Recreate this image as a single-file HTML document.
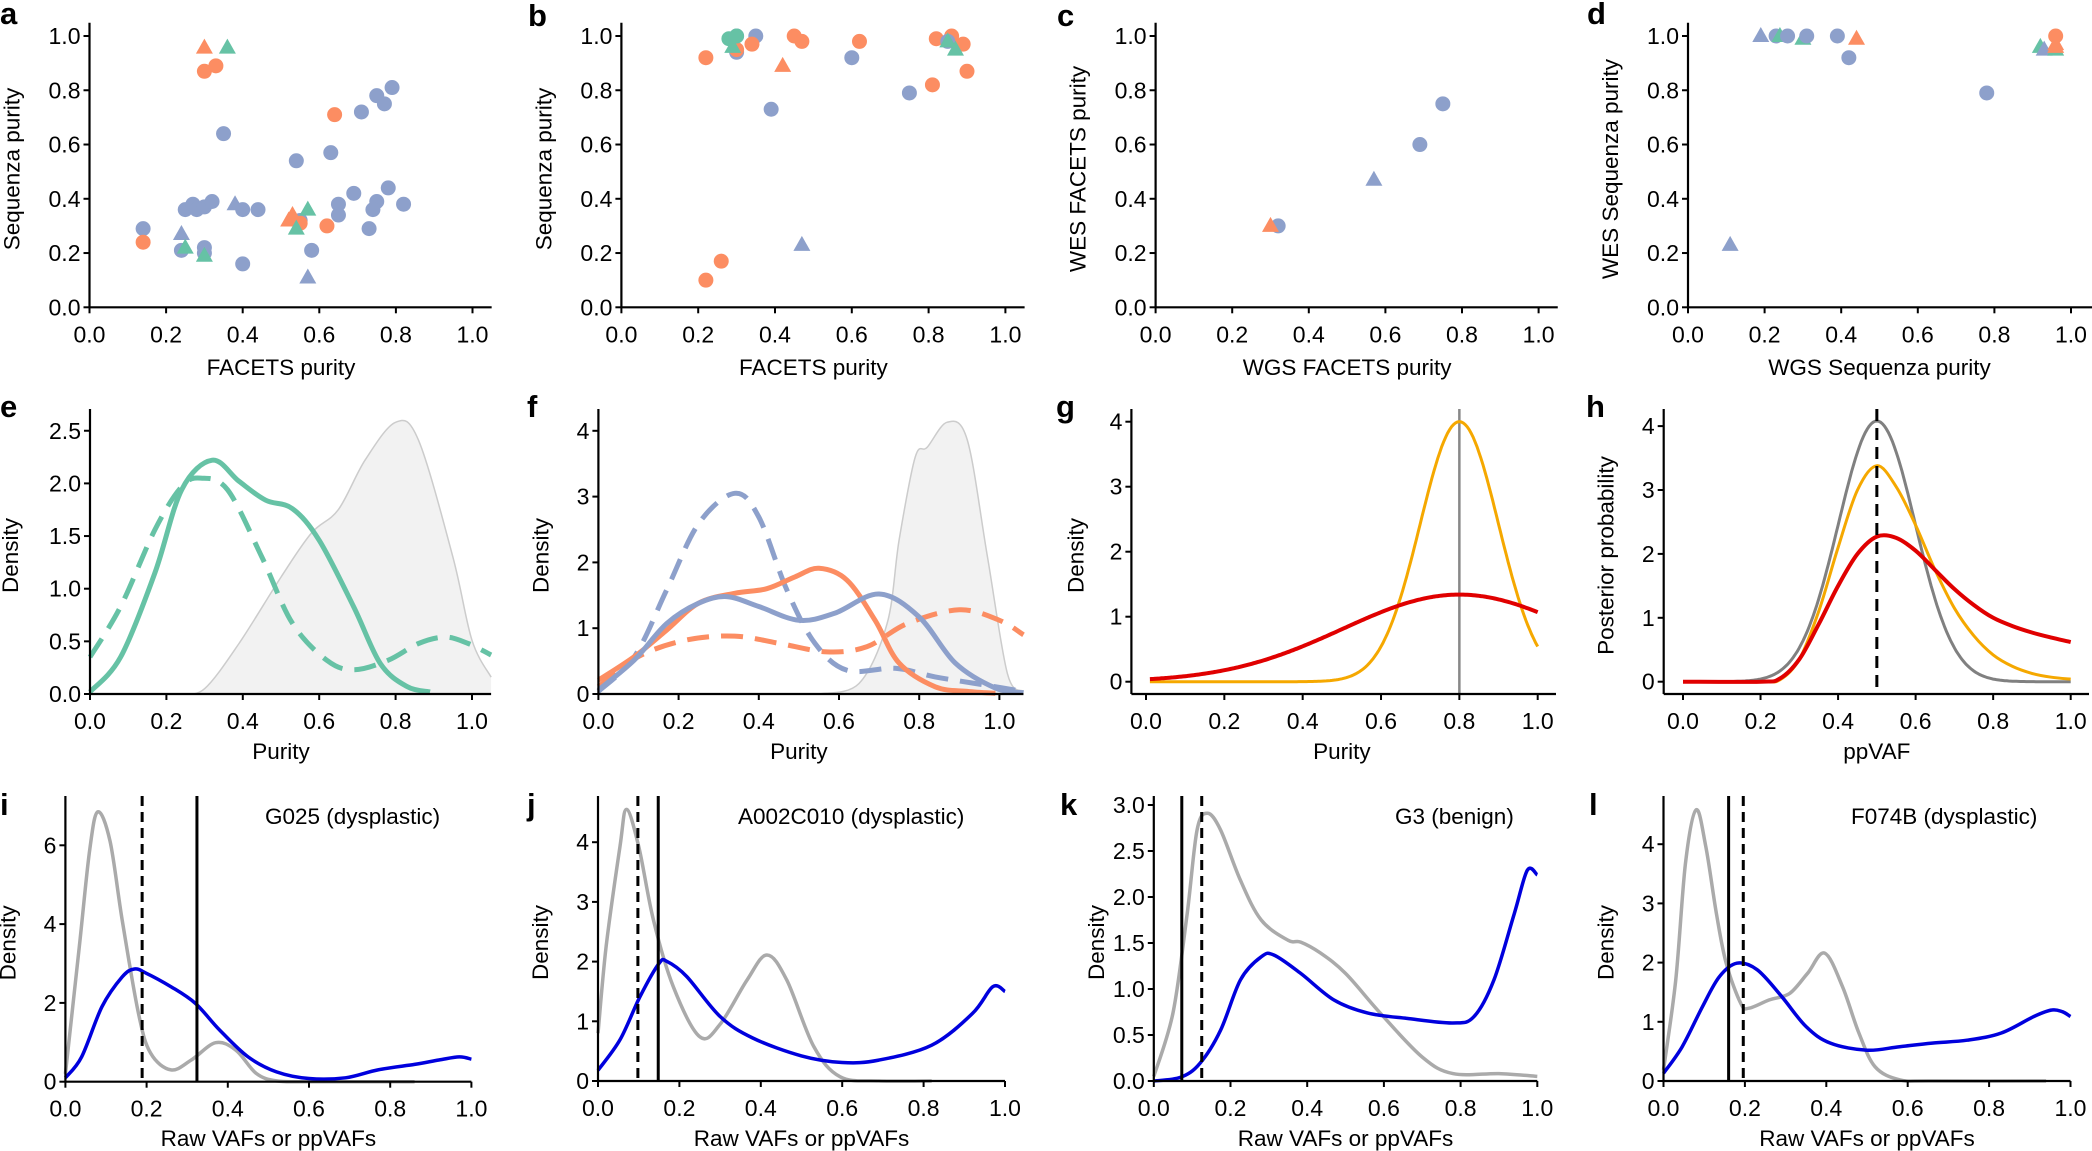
<!DOCTYPE html>
<html><head><meta charset="utf-8">
<style>
html,body{margin:0;padding:0;background:#fff;}
svg{display:block;}
text{font-family:"Liberation Sans",Arial,sans-serif;fill:#000;}
</style></head>
<body>
<svg id="s" width="2092" height="1151" viewBox="0 0 2092 1151" xmlns="http://www.w3.org/2000/svg"></svg>
<script>
const S=document.getElementById('s');
let out='';
const B='#8da0cb',O='#fc8d62',G='#66c2a5';
const TF=23, LF=22.5;
function txt(x,y,s,opt){opt=opt||{};
 out+=`<text x="${x}" y="${y}" font-size="${opt.fs||TF}" text-anchor="${opt.a||'middle'}" ${opt.b?'font-weight="bold"':''} ${opt.rot?`transform="rotate(-90 ${x} ${y})"`:''}>${s}</text>`;}
function line(x1,y1,x2,y2,c,w,dash){out+=`<line x1="${x1}" y1="${y1}" x2="${x2}" y2="${y2}" stroke="${c}" stroke-width="${w}" ${dash?`stroke-dasharray="${dash}"`:''}/>`;}
function smooth(pts){let d=`M${pts[0][0].toFixed(1)},${pts[0][1].toFixed(1)}`;
 for(let i=0;i<pts.length-1;i++){const p0=pts[i-1]||pts[i],p1=pts[i],p2=pts[i+1],p3=pts[i+2]||p2;
  const c1=[p1[0]+(p2[0]-p0[0])/6,p1[1]+(p2[1]-p0[1])/6],c2=[p2[0]-(p3[0]-p1[0])/6,p2[1]-(p3[1]-p1[1])/6];
  d+=` C${c1[0].toFixed(1)},${c1[1].toFixed(1)} ${c2[0].toFixed(1)},${c2[1].toFixed(1)} ${p2[0].toFixed(1)},${p2[1].toFixed(1)}`;}
 return d;}
function P(x0,y0,ux,uy){return {X:v=>x0+v*ux,Y:v=>y0-v*uy,x0,y0,ux,uy};}
function curve(p,data,c,w,dash,fill){const pts=data.map(d=>[p.X(d[0]),p.Y(d[1])]);
 let d=smooth(pts);
 if(fill){const f=d+` L${pts[pts.length-1][0]},${p.y0} L${pts[0][0]},${p.y0} Z`;out+=`<path d="${f}" fill="#f2f2f2" stroke="none"/>`;}
 out+=`<path d="${d}" fill="none" stroke="${c}" stroke-width="${w}" ${dash?`stroke-dasharray="${dash}"`:''} stroke-linejoin="round"/>`;}
function fn(p,f,a,b,c,w){let pts=[];for(let x=a;x<=b+1e-9;x+=0.005)pts.push([p.X(x),p.Y(f(x))]);
 out+=`<path d="M${pts.map(q=>q[0].toFixed(1)+','+q[1].toFixed(1)).join(' L')}" fill="none" stroke="${c}" stroke-width="${w}"/>`;}
function axes(p,o){
 const sx=o.spineX!==undefined?o.spineX:p.x0, sy=o.spineY!==undefined?o.spineY:p.y0;
 line(sx,o.ytop,sx,sy,'#000',2.2);
 line(sx,sy,o.xend,sy,'#000',2.2);
 o.xt.forEach(v=>{const x=p.X(v);line(x,sy,x,sy+6,'#000',2);txt(x,sy+35,v.toFixed(o.xd),{});});
 o.yt.forEach(v=>{const y=p.Y(v);line(sx,y,sx-6,y,'#000',2);txt(sx-9,y+8,v.toFixed(o.yd),{a:'end'});});
 txt((p.x0+p.X(1))/2,o.xlaby,o.xlab,{fs:LF});
 txt(sx-o.ylabdx,(o.ytop+sy)/2+4,o.ylab,{fs:LF,rot:1});
}
const R=[0,.2,.4,.6,.8,1.0];
function circ(p,x,y,c){out+=`<circle cx="${p.X(x)}" cy="${p.Y(y)}" r="7.5" fill="${c}"/>`;}
function tri(p,x,y,c){const X=p.X(x),Y=p.Y(y);out+=`<polygon points="${X},${Y-9} ${X-8.5},${Y+6} ${X+8.5},${Y+6}" fill="${c}"/>`;}
function scatter(p,list){list.forEach(d=>{(d[3]?tri:circ)(p,d[0],d[1],d[2]);});}

const r1={xt:R,xd:1,yt:R,yd:1,ytop:22.7,xlaby:375,ylabdx:70};
const pa=P(89.5,307.3,383,271.3);
axes(pa,Object.assign({},r1,{xend:pa.X(1.05),xlab:'FACETS purity',ylab:'Sequenza purity'}));
scatter(pa,[
[.30,.957,O,1],[.36,.957,G,1],[.30,.87,O],[.33,.89,O],[.35,.64,B],[.64,.71,O],[.71,.72,B],[.75,.78,B],[.77,.75,B],[.79,.81,B],
[.63,.57,B],[.54,.54,B],[.69,.42,B],[.78,.44,B],[.75,.39,B],[.74,.36,B],[.82,.38,B],[.65,.38,B],[.65,.34,B],[.73,.29,B],
[.25,.36,B],[.27,.38,B],[.28,.36,B],[.30,.37,B],[.32,.39,B],[.40,.36,B],[.44,.36,B],[.38,.38,B,1],
[.55,.32,B],[.53,.34,O,1],[.52,.32,O,1],[.55,.31,O],[.57,.36,G,1],[.54,.29,G,1],[.62,.30,O],
[.14,.29,B],[.14,.24,O],[.24,.27,B,1],[.24,.21,B],[.25,.22,G,1],[.30,.22,B],[.30,.20,B],[.30,.19,G,1],
[.40,.16,B],[.58,.21,B],[.57,.11,B,1]]);
const pb=P(621.4,307.3,384,271.3);
axes(pb,Object.assign({},r1,{xend:pb.X(1.05),xlab:'FACETS purity',ylab:'Sequenza purity'}));
scatter(pb,[[.28,.99,G],[.30,.94,B],[.30,.95,O],[.30,1.0,B],[.30,1.0,G],[.35,1.0,B],[.29,.96,G,1],[.34,.97,O],[.45,1.0,O],[.47,.98,O],[.62,.98,O],[.22,.92,O],
[.42,.89,O,1],[.60,.92,B],[.39,.73,B],[.75,.79,B],[.81,.82,O],[.82,.99,O],[.86,1.0,O],[.89,.97,O],[.90,.87,O],[.85,.98,B],[.85,.98,G,1],[.87,.95,G,1],
[.26,.17,O],[.22,.10,O],[.47,.23,B,1]]);
const pc=P(1155.6,307.3,383,271.3);
axes(pc,Object.assign({},r1,{xend:pc.X(1.05),xlab:'WGS FACETS purity',ylab:'WES FACETS purity'}));
scatter(pc,[[.32,.30,B],[.30,.30,O,1],[.57,.47,B,1],[.69,.60,B],[.75,.75,B]]);
const pd=P(1688,307.3,383,271.3);
axes(pd,Object.assign({},r1,{xend:2092,xlab:'WGS Sequenza purity',ylab:'WES Sequenza purity'}));
scatter(pd,[[.19,1.0,B,1],[.23,1.0,B],[.24,1.0,G,1],[.26,1.0,B],[.30,.99,G,1],[.31,1.0,B],[.39,1.0,B],[.44,.99,O,1],[.42,.92,B],[.78,.79,B],[.11,.23,B,1],
[.92,.96,G,1],[.93,.95,B,1],[.96,1.0,O],[.96,.95,G,1],[.96,.97,O,1],[.96,.96,O,1]]);

const pe=P(90,694,382,105.3);
curve(pe,[[.24,0],[.3,.05],[.39,.48],[.5,1.11],[.58,1.53],[.65,1.75],[.72,2.22],[.8,2.58],[.86,2.41],[.95,1.30],[1.0,.51],[1.05,.16]],'#cccccc',1.5,null,1);
curve(pe,[[0,.35],[.08,.83],[.17,1.56],[.24,1.97],[.29,2.05],[.36,1.94],[.45,1.30],[.53,.67],[.62,.32],[.69,.23],[.78,.32],[.86,.48],[.93,.54],[.99,.48],[1.05,.37]],G,5,'22,12');
curve(pe,[[0,.02],[.08,.35],[.17,1.15],[.24,1.94],[.32,2.22],[.39,2.02],[.46,1.84],[.53,1.76],[.6,1.46],[.69,.83],[.76,.29],[.83,.07],[.89,.02]],G,5);
axes(pe,{xt:R,xd:1,yt:[0,.5,1,1.5,2,2.5],yd:1,ytop:409,xend:pe.X(1.05),xlab:'Purity',ylab:'Density',ylabdx:72,xlaby:759});
const pf=P(598.4,694,401,65.8);
curve(pf,[[.55,0],[.65,.16],[.72,1.07],[.75,2.34],[.79,3.6],[.82,3.75],[.87,4.13],[.92,3.86],[.97,2.09],[1.02,.31],[1.06,.04]],'#cccccc',1.5,null,1);
curve(pf,[[0,.11],[.1,.57],[.22,.82],[.34,.88],[.45,.77],[.57,.64],[.67,.72],[.77,1.07],[.9,1.28],[1.0,1.12],[1.06,.9]],O,5,'22,12');
curve(pf,[[0,.04],[.09,.57],[.17,1.58],[.25,2.59],[.34,3.05],[.4,2.69],[.47,1.58],[.54,.77],[.62,.36],[.74,.39],[.84,.26],[.94,.16],[1.06,.04]],B,5,'22,12');
curve(pf,[[0,.21],[.09,.57],[.17,.97],[.25,1.38],[.34,1.53],[.42,1.6],[.49,1.78],[.55,1.91],[.62,1.73],[.69,1.12],[.75,.47],[.84,.11],[.92,.04],[.99,.01]],O,5);
curve(pf,[[0,.06],[.09,.52],[.17,1.07],[.25,1.38],[.32,1.48],[.40,1.33],[.5,1.12],[.59,1.23],[.7,1.52],[.8,1.17],[.89,.47],[.99,.09],[1.06,.02]],B,5);
axes(pf,{xt:R,xd:1,yt:[0,1,2,3,4],yd:0,ytop:409,xend:pf.X(1.06),xlab:'Purity',ylab:'Density',ylabdx:50,xlaby:759});
const pg=P(1146,681.7,391.7,65);
line(pg.X(.8),409,pg.X(.8),694,'#888',2.5);
fn(pg,x=>4*Math.exp(-Math.pow(x-.8,2)/(2*.01)),0.01,1.0,'#f5a800',3);
fn(pg,x=>1.34*Math.exp(-Math.pow(x-.8,2)/(2*.0888)),0.01,1.0,'#e00000',4);
axes(pg,{xt:R,xd:1,yt:[0,1,2,3,4],yd:0,ytop:409,xend:1556,spineX:1131.4,spineY:694,xlab:'Purity',ylab:'Density',ylabdx:48,xlaby:759});
const ph=P(1683,681.7,387.7,63.9);
fn(ph,x=>4.08*Math.exp(-Math.pow(x-.5,2)/(2*.0098)),0,1,'#808080',3);
curve(ph,[[0,0],[.2,0],[.25,.03],[.3,.35],[.35,1.1],[.4,2.1],[.45,3.0],[.5,3.38],[.55,3.05],[.6,2.45],[.65,1.75],[.7,1.15],[.75,.72],[.8,.42],[.85,.24],[.9,.13],[.95,.07],[1.0,.04]],'#f5a800',3);
curve(ph,[[0,0],[.2,0],[.25,.05],[.3,.35],[.35,.9],[.4,1.5],[.45,2.0],[.5,2.27],[.55,2.25],[.6,2.05],[.65,1.75],[.7,1.45],[.75,1.2],[.8,1.0],[.85,.87],[.9,.77],[.95,.69],[1.0,.62]],'#e00000',4);
line(ph.X(.5),409,ph.X(.5),694,'#000',3,'12,7');
axes(ph,{xt:R,xd:1,yt:[0,1,2,3,4],yd:0,ytop:409,xend:2089,spineX:1663.7,spineY:694,xlab:'ppVAF',ylab:'Posterior probability',ylabdx:50,xlaby:759});

function r3(p,yt,yd,gray,blue,dashX,solidX,label,lx){
 curve(p,gray,'#aaaaaa',3.5);
 curve(p,blue,'#0000dd',3.5);
 line(p.X(dashX),796,p.X(dashX),p.y0,'#000',3,'10,6');
 line(p.X(solidX),796,p.X(solidX),p.y0,'#000',3);
 axes(p,{xt:R,xd:1,yt:yt,yd:yd,ytop:796,xend:p.X(1),xlab:'Raw VAFs or ppVAFs',ylab:'Density',ylabdx:50,xlaby:1146});
 txt(lx,824,label,{a:'start',fs:LF});
}
const pi=P(65.4,1081.7,406,39.4);
r3(pi,[0,2,4,6],0,
[[0,.2],[.034,3.4],[.06,5.9],[.08,6.85],[.11,6.1],[.14,4.1],[.18,1.73],[.21,.72],[.26,.3],[.31,.55],[.37,.99],[.42,.8],[.47,.21],[.52,.02],[.6,0],[.86,0]],
[[0,.1],[.04,.63],[.09,1.9],[.14,2.66],[.17,2.86],[.2,2.75],[.26,2.41],[.32,1.99],[.38,1.31],[.45,.63],[.52,.25],[.6,.08],[.69,.1],[.77,.3],[.86,.44],[.92,.55],[.97,.63],[1.0,.57]],
.189,.324,'G025 (dysplastic)',265);
const pj=P(598,1081,407,59.7);
r3(pj,[0,1,2,3,4],0,
[[0,.8],[.02,2.25],[.054,3.93],[.07,4.55],[.1,3.93],[.136,2.7],[.185,1.58],[.25,.74],[.3,.95],[.366,1.69],[.415,2.11],[.464,1.69],[.53,.58],[.595,.07],[.69,0],[.82,0]],
[[0,.18],[.054,.69],[.103,1.41],[.15,1.97],[.17,2.0],[.218,1.75],[.3,1.08],[.38,.72],[.5,.42],[.6,.31],[.69,.35],[.82,.6],[.92,1.13],[.97,1.58],[1.0,1.5]],
.098,.148,'A002C010 (dysplastic)',738);
const pk=P(1153.8,1081,383.5,92);
r3(pk,[0,.5,1,1.5,2,2.5,3],1,
[[0,.05],[.05,.74],[.087,1.82],[.113,2.73],[.14,2.91],[.174,2.73],[.226,2.18],[.28,1.75],[.35,1.53],[.383,1.51],[.435,1.39],[.5,1.17],[.59,.74],[.7,.26],[.78,.08],[.9,.08],[1.0,.05]],
[[0,0],[.07,.04],[.12,.19],[.174,.55],[.226,1.1],[.28,1.35],[.313,1.37],[.383,1.17],[.47,.88],[.557,.74],[.66,.68],[.78,.63],[.835,.7],[.887,1.1],[.94,1.82],[.974,2.29],[1.0,2.24]],
.125,.073,'G3 (benign)',1395);
const pl=P(1663.5,1081,407,59.2);
r3(pl,[0,1,2,3,4],0,
[[0,.19],[.03,1.7],[.054,3.68],[.08,4.58],[.104,3.96],[.13,2.83],[.154,1.99],[.19,1.31],[.21,1.23],[.26,1.37],[.31,1.48],[.354,1.82],[.396,2.16],[.44,1.59],[.48,.81],[.52,.24],[.58,.02],[.66,0],[.94,0]],
[[0,.13],[.046,.58],[.096,1.26],[.137,1.76],[.18,1.99],[.23,1.88],[.29,1.43],[.35,.92],[.41,.64],[.5,.52],[.58,.58],[.66,.64],[.746,.69],[.83,.81],[.91,1.09],[.954,1.2],[.98,1.17],[1.0,1.09]],
.196,.16,'F074B (dysplastic)',1851);

[['a',0,24],['b',528,26],['c',1057,26],['d',1587,24],['e',0,417],['f',527,417],['g',1056,417],['h',1586,417],['i',0,815],['j',527,815],['k',1060,815],['l',1589,815]]
.forEach(l=>txt(l[1],l[2],l[0],{fs:31,b:1,a:'start'}));
S.innerHTML=out;
</script>
</body></html>
